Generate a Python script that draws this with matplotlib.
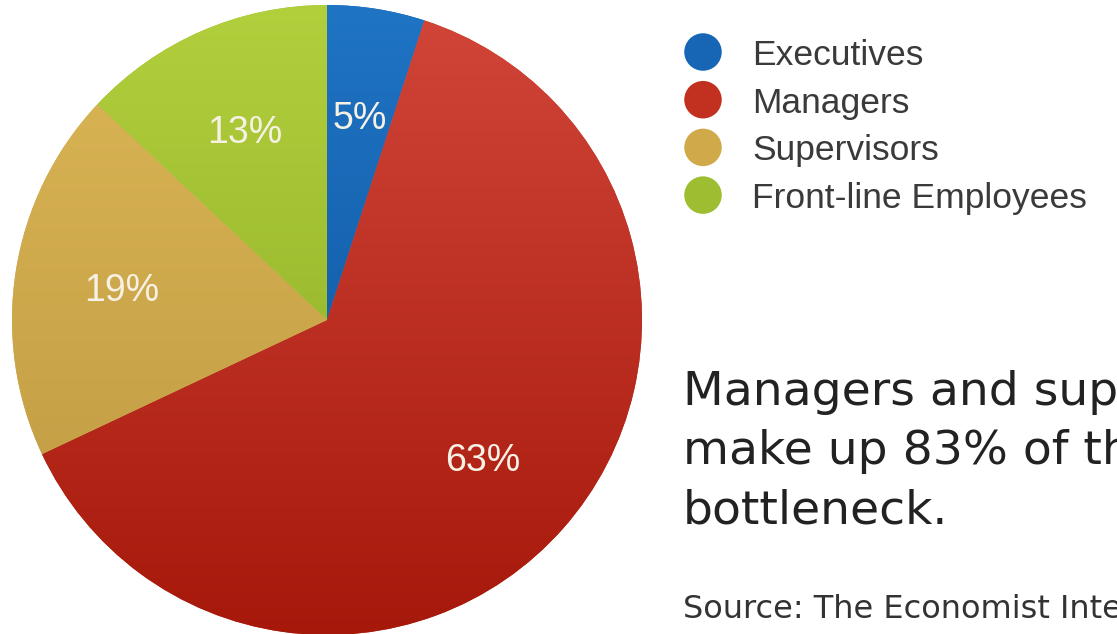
import matplotlib

matplotlib.use("Agg")
import matplotlib.pyplot as plt
import matplotlib.colors as mcolors
import numpy as np

plt.rcParams["font.family"] = ["Liberation Sans", "DejaVu Sans"]

# data
groups = ["Executives", "Managers", "Supervisors", "Front-line Employees"]
shares = [5, 63, 19, 13]
# (top, bottom) of the soft vertical gradient in each slice
top_colors = ["#1f74c4", "#d2463a", "#dcb756", "#b2cf3c"]
bottom_colors = ["#0c4f98", "#a5180a", "#bd9740", "#86a823"]
legend_colors = ["#1666b5", "#c2301f", "#d0aa4a", "#9cbe30"]

headline = ["Managers and supervisors", "make up 83% of the", "bottleneck."]
source = "Source: The Economist Intelligence Unit"

W, H = 1117, 634
fig = plt.figure(figsize=(W / 100, H / 100), dpi=100)
fig.patch.set_facecolor("white")

cx, cy, r = 327, 320, 315
ax = fig.add_axes([(cx - r) / W, (H - cy - r) / H, 2 * r / W, 2 * r / H])
wedges, _, autotexts = ax.pie(
    shares,
    startangle=90,
    counterclock=False,
    radius=1.0,
    colors=legend_colors,
    autopct=lambda p: f"{p:.0f}%",
    pctdistance=0.66,
    wedgeprops=dict(linewidth=0),
    textprops=dict(fontsize=27, color="#f6f1e4"),
)
for t in autotexts:
    t.set_zorder(5)
    t.set_verticalalignment("center_baseline")

# gradient fill clipped to each wedge
grad = np.linspace(0, 1, 256)[:, None]
for w, c0, c1 in zip(wedges, top_colors, bottom_colors):
    cmap = mcolors.LinearSegmentedColormap.from_list("g", [c1, c0])
    im = ax.imshow(
        np.repeat(grad, 2, axis=1),
        cmap=cmap,
        extent=(-1, 1, -1, 1),
        origin="lower",
        aspect="auto",
        zorder=2,
    )
    im.set_clip_path(w)
ax.set_xlim(-1, 1)
ax.set_ylim(-1, 1)
ax.set_aspect("equal")
ax.axis("off")

# overlay in pixel coordinates for the legend and the side text
ov = fig.add_axes([0, 0, 1, 1])
ov.set_xlim(0, W)
ov.set_ylim(H, 0)
ov.axis("off")

for i, (name, c) in enumerate(zip(groups, legend_colors)):
    y = 52 + i * 47.7
    ov.scatter([703], [y], s=27 ** 2, color=c, edgecolors="none")
    ov.text(752, y, name, fontsize=25.5, color="#3a3a3a", va="center_baseline", ha="left")

# the reference is cropped on the right, so these lines run off the edge
for i, line in enumerate(headline):
    ov.text(683, 405 + i * 59, line, fontsize=34, color="#222222",
            family=["DejaVu Sans"], va="baseline", ha="left")
ov.text(683, 618, source, fontsize=23, color="#333333",
        family=["DejaVu Sans"], va="baseline", ha="left")

fig.savefig("out.png", dpi=100)
